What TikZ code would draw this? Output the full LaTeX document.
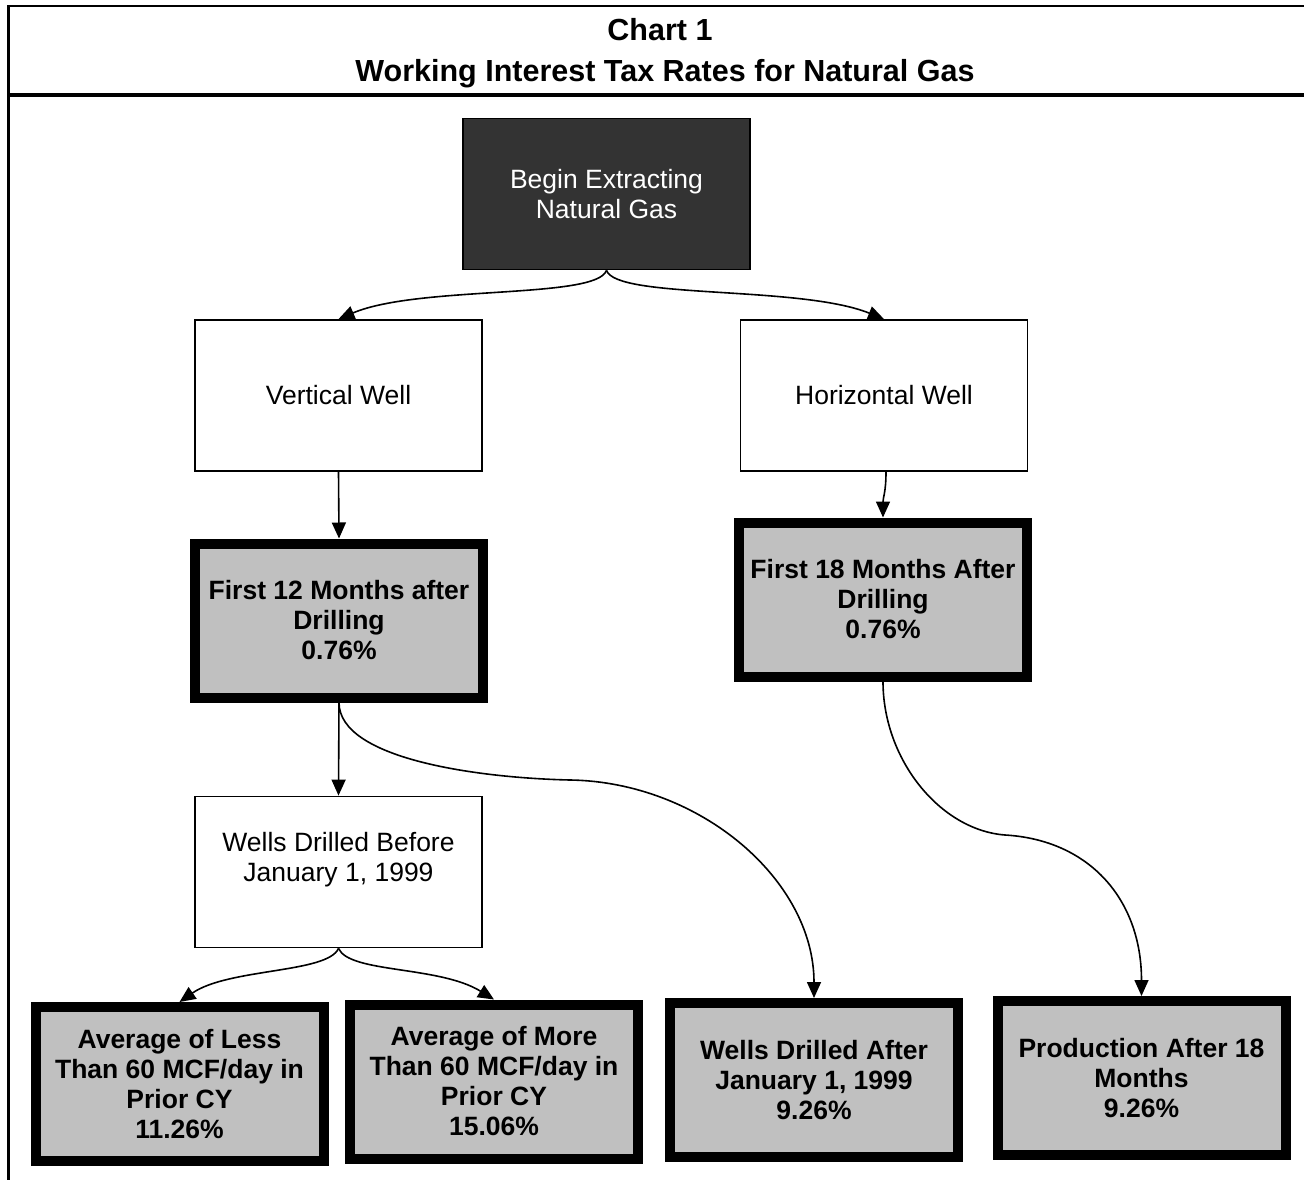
\documentclass[tikz,border=0pt]{standalone}
\usepackage{fontspec}
\setmainfont{Liberation Sans}
\usetikzlibrary{arrows.meta}
\definecolor{boxgray}{HTML}{C0C0C0}
\definecolor{darkbox}{HTML}{333333}
\begin{document}
\begin{tikzpicture}[x=1pt,y=-1pt,
  whitebox/.style={draw=black,line width=1.8pt,fill=white,minimum width=287pt,minimum height=151pt,inner sep=0pt,align=center,font=\fontsize{26.5}{30}\selectfont},
  beginbox/.style={whitebox,fill=darkbox,text=white},
  ratebox/.style={draw=black,line width=10pt,fill=boxgray,minimum width=288pt,minimum height=154pt,inner sep=0pt,align=center,font=\bfseries\fontsize{26.5}{30}\selectfont},
  titletext/.style={font=\bfseries\fontsize{30.5}{36}\selectfont,anchor=base},
  conn/.style={line width=1.6pt,-{Triangle[length=16pt,width=14pt]}},
  frameline/.style={line width=2.5pt}]
\useasboundingbox[fill=white] (0,0) rectangle (1304,1180);
% frame
\draw[frameline] (8.5,1180) -- (8.5,6) -- (1304,6);
\draw[line width=4pt] (7,95) -- (1304,95);
\node[titletext] (t1) at (660,41) {Chart 1};
\node[titletext] (t2) at (665,82) {Working Interest Tax Rates for Natural Gas};
% boxes
\node[beginbox] (begin) at (606.5,194) {Begin Extracting\\Natural Gas};
\node[whitebox] (vw) at (338.5,395.5) {Vertical Well};
\node[whitebox] (hw) at (884,395.5) {Horizontal Well};
\node[ratebox] (f12) at (339,620.5) {First 12 Months after\\Drilling\\0.76\%};
\node[ratebox] (f18) at (883,599.5) {First 18 Months After\\Drilling\\0.76\%};
\node[whitebox] (wb) at (338.5,872) {Wells Drilled Before\\January 1, 1999\\~};
\node[ratebox] (al) at (179.5,1084) {Average of Less\\Than 60 MCF/day in\\Prior CY\\11.26\%};
\node[ratebox] (am) at (494,1081.5) {Average of More\\Than 60 MCF/day in\\Prior CY\\15.06\%};
\node[ratebox] (wa) at (814,1080) {Wells Drilled After\\January 1, 1999\\9.26\%};
\node[ratebox] (pr) at (1141.5,1078) {Production After 18\\Months\\9.26\%};
% connectors
\draw[conn] (begin.south) .. controls +(-10,29) and +(80,-34) .. (vw.north);
\draw[conn] (begin.south) .. controls +(10,29) and +(-84,-34) .. (hw.north);
\draw[conn] (vw.south) -- (f12.north);
\draw[conn] ([xshift=2pt]hw.south) .. controls +(0,20) and +(0,-20) .. (f18.north);
\draw[conn] (f12.south) -- (wb.north);
\draw[conn] (f12.south) .. controls +(0,57) and +(-90,-2) .. (570,780)
  .. controls +(130,2) and +(0,-118) .. (wa.north);
\draw[conn] (f18.south) .. controls +(0,78) and +(-65,-5) .. (1005,835)
  .. controls +(85,5) and +(0,-96) .. (pr.north);
\draw[conn] (wb.south) .. controls +(-11,25) and +(49,-34) .. (al.north);
\draw[conn] (wb.south) .. controls +(11,25) and +(-55,-34) .. (am.north);
\end{tikzpicture}
\end{document}
